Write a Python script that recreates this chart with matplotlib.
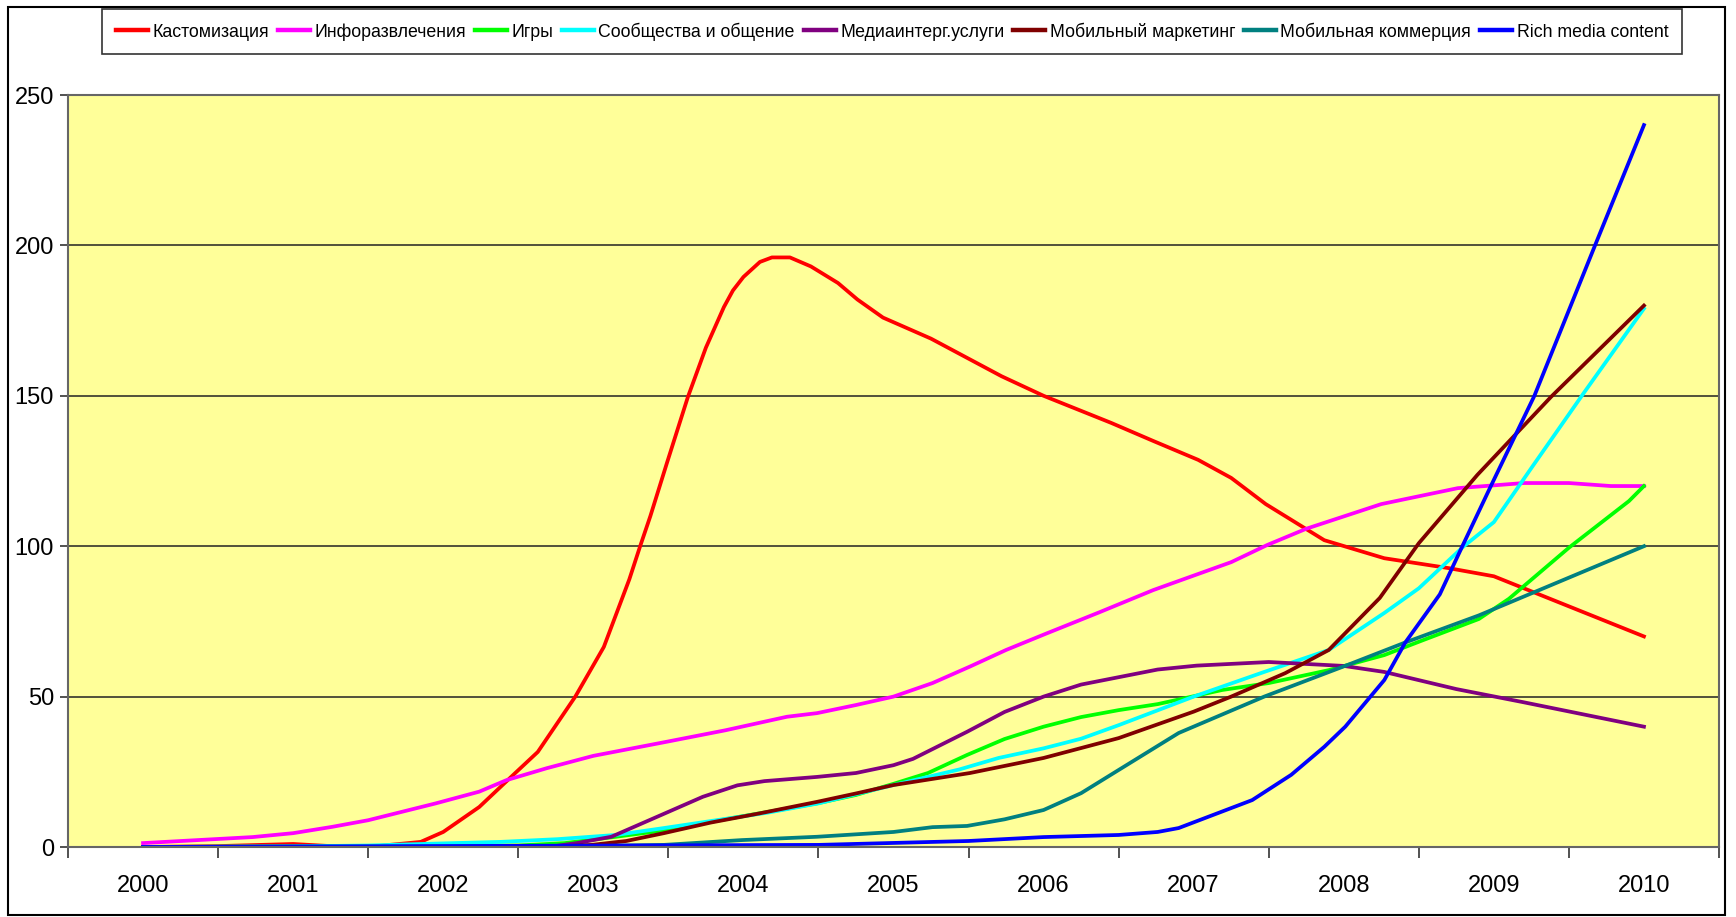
import matplotlib
matplotlib.use("Agg")
import matplotlib.pyplot as plt
from matplotlib import font_manager
from matplotlib.patches import Rectangle

# pick a narrow Arial-like face if there is one
names = {f.name for f in font_manager.fontManager.ttflist}
if "Liberation Sans Narrow" in names:
    plt.rcParams['font.family'] = ['Liberation Sans Narrow', 'DejaVu Sans']
    leg_size = 15
else:
    plt.rcParams['font.family'] = ['Liberation Sans', 'DejaVu Sans']
    leg_size = 12.8

years = [2000, 2001, 2002, 2003, 2004, 2005, 2006, 2007, 2008, 2009, 2010]
year_labels = [str(y) for y in years]

# Кастомизация
red_x = [0, 0.5, 1.0, 1.25, 1.5, 1.85, 2.0, 2.24, 2.48, 2.63, 2.88, 3.07, 3.24, 3.31, 3.38, 3.49,
         3.63, 3.75, 3.87, 3.93, 4.0, 4.11, 4.19, 4.31, 4.45, 4.63, 4.76, 4.93, 5.25, 5.72, 6.0,
         6.45, 6.73, 7.03, 7.25, 7.48, 7.87, 8.27, 8.7, 9.0, 9.45, 10.0]
red_y = [0, 0.3, 1.0, 0.3, 0, 1.7, 5, 13.3, 24.6, 31.6, 50, 66.5, 89, 99.7, 110, 127.6,
         149.6, 166, 179.5, 185, 189.5, 194.5, 196, 196, 193, 187.5, 182, 176, 169, 156.5, 150,
         141, 135, 128.7, 122.7, 114, 102, 96, 92.7, 90, 81, 70]

# Инфоразвлечения
mag_x = [0, 0.73, 1.0, 1.26, 1.5, 1.95, 2.24, 2.42, 2.69, 3.0, 3.49, 3.88, 4.29, 4.49, 4.75, 5.0,
         5.26, 5.51, 5.75, 6.02, 6.37, 6.73, 7.25, 7.49, 7.75, 8.25, 8.76, 9.2, 9.5, 9.78, 10.0]
mag_y = [1.3, 3.3, 4.6, 6.7, 8.9, 14.5, 18.4, 22.2, 26.2, 30.3, 35, 38.8, 43.3, 44.5, 47.2, 50,
         54.5, 60, 65.5, 71, 78, 85.4, 94.7, 100.4, 105.8, 114, 119.3, 121, 121, 120, 120]

# Игры
grn_x = [0, 2.5, 2.81, 3.15, 3.47, 3.91, 4.49, 4.75, 5.0, 5.23, 5.49, 5.74, 6.0, 6.25, 6.5, 6.76,
         7.19, 7.5, 7.9, 8.27, 8.53, 8.9, 9.1, 9.5, 9.9, 10.0]
grn_y = [0, 0.5, 1.3, 3.4, 5.5, 9.5, 14.5, 17.3, 21, 24.6, 30.6, 35.9, 40, 43.2, 45.5, 47.5,
         52.2, 54.5, 58.8, 63.8, 68.8, 75.8, 82.5, 99.5, 115, 120]

# Сообщества и общение
cyn_x = [0, 1.0, 1.5, 2.0, 2.38, 2.76, 3.15, 3.47, 3.86, 4.16, 4.5, 5.0, 5.44, 5.7, 6.0, 6.25,
         6.5, 7.0, 7.47, 7.9, 8.27, 8.5, 8.8, 9.0, 9.25, 9.6, 10.0]
cyn_y = [0, 0.2, 0.5, 1.2, 1.7, 2.6, 4, 6.3, 9.2, 11.4, 14.5, 20.6, 25.8, 29.6, 32.8, 36,
         40.5, 50, 58.2, 65.5, 77.8, 86, 100, 108, 126, 151, 179]

# Медиаинтегр.услуги
pur_x = [0, 2.7, 2.89, 3.12, 3.4, 3.73, 3.96, 4.14, 4.49, 4.75, 5.0, 5.13, 5.49, 5.74, 6.0, 6.25,
         6.76, 7.02, 7.5, 8.0, 8.27, 8.75, 9.19, 10.0]
pur_y = [0, 0, 1.3, 3.4, 9.5, 16.7, 20.5, 21.9, 23.3, 24.6, 27.2, 29.3, 38.3, 44.9, 50, 54,
         59, 60.3, 61.5, 60.2, 58.2, 52.5, 48.2, 40]

# Мобильный маркетинг
brn_x = [0, 2.7, 2.99, 3.22, 3.47, 3.78, 4.11, 4.49, 4.75, 5.0, 5.51, 6.0, 6.5, 7.0, 7.25, 7.61,
         7.9, 8.24, 8.5, 8.89, 9.38, 10.0]
brn_y = [0, 0, 0.7, 2, 4.6, 8.1, 11.2, 15, 17.8, 20.6, 24.6, 29.6, 36.2, 45, 50, 57.8,
         65.5, 82.8, 101, 123.7, 149.6, 180]

# Мобильная коммерция
tea_x = [0, 3.0, 3.47, 3.99, 4.49, 5.0, 5.26, 5.49, 5.74, 6.0, 6.25, 6.5, 6.9, 7.47, 8.05, 8.41,
         8.9, 10.0]
tea_y = [0, 0.3, 0.7, 2.3, 3.4, 5, 6.6, 7, 9.2, 12.3, 17.9, 25.6, 37.9, 50, 61, 68,
         77, 100]

# Rich media content
blu_x = [0, 4.5, 5.5, 6.0, 6.5, 6.76, 6.9, 7.39, 7.65, 7.87, 8.01, 8.27, 8.41, 8.64, 8.79, 8.98,
         9.27, 9.67, 10.0]
blu_y = [0, 0.7, 2, 3.3, 4, 5, 6.3, 15.6, 24, 33.3, 40, 55.5, 68, 84, 100, 120,
         150, 199.5, 240]

series = [
    ("Кастомизация", red_x, red_y, "#FF0000"),
    ("Инфоразвлечения", mag_x, mag_y, "#FF00FF"),
    ("Игры", grn_x, grn_y, "#00FF00"),
    ("Сообщества и общение", cyn_x, cyn_y, "#00FFFF"),
    ("Медиаинтерг.услуги", pur_x, pur_y, "#800080"),
    ("Мобильный маркетинг", brn_x, brn_y, "#800000"),
    ("Мобильная коммерция", tea_x, tea_y, "#008080"),
    ("Rich media content", blu_x, blu_y, "#0000FF"),
]

fig = plt.figure(figsize=(17.36, 9.17), dpi=100)
ax = fig.add_axes([68 / 1736, 70 / 917, 1651 / 1736, 752 / 917])
ax.set_facecolor("#FFFF99")

for name, xs, ys, col in series:
    ax.plot([years[0] + v for v in xs], ys, color=col, lw=2.7, label=name,
            solid_joinstyle="round")

ax.set_xlim(years[0] - 0.5, years[-1] + 0.5)
ax.set_ylim(0, 250)
ax.set_yticks(range(0, 251, 50))
ax.yaxis.grid(True, color="#222222", lw=1.1)
ax.set_axisbelow(True)

# category axis: ticks between years, labels in the middle
ax.set_xticks([y - 0.5 for y in years] + [years[-1] + 0.5])
ax.set_xticklabels([])
ax.set_xticks(years, minor=True)
ax.set_xticklabels(year_labels, minor=True)
ax.tick_params(axis="x", which="major", length=8, width=1.2, color="#333333", direction="out")
ax.tick_params(axis="x", which="minor", length=0, pad=20, labelsize=17)
ax.tick_params(axis="y", length=6, width=1.2, color="#333333", pad=4, labelsize=17)

for s in ax.spines.values():
    s.set_color("#666666")
    s.set_linewidth(1.5)

leg = fig.legend(loc="upper center", bbox_to_anchor=(892 / 1736, 1 - 9 / 917), ncol=8,
                 fontsize=leg_size, frameon=True, fancybox=False, edgecolor="black",
                 handlelength=1.8, handletextpad=0.25, columnspacing=0.5,
                 borderpad=0.75, borderaxespad=0)
leg.get_frame().set_linewidth(1.2)
for h in leg.get_lines():
    h.set_linewidth(3.2)

# outer chart border
fig.patches.append(Rectangle((8 / 1736, 2 / 917), 1717 / 1736, 908 / 917, transform=fig.transFigure,
                             fill=False, edgecolor="black", lw=1.5))

fig.savefig("out.png", dpi=100, facecolor="white")
